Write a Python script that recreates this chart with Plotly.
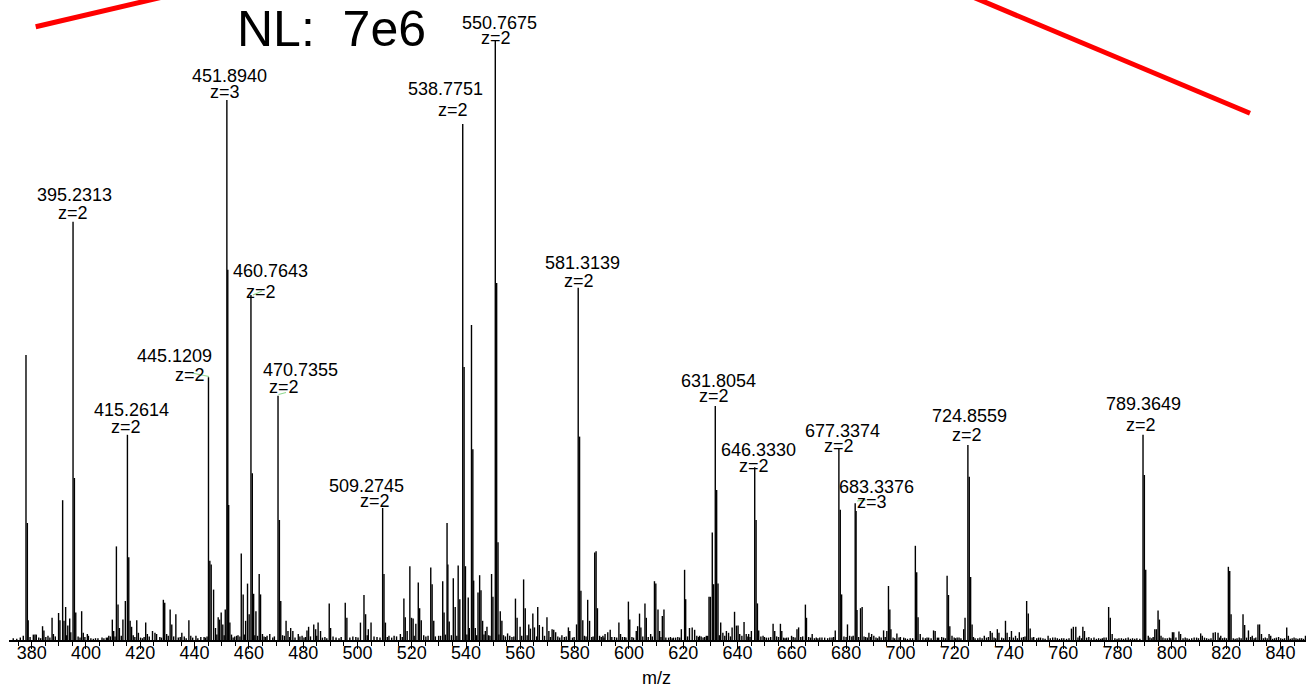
import plotly.graph_objects as go

# ---------------- data ----------------
# relative intensity (%) of each centroid stick, base peak 550.7675 = 100
mz = [
    376.9, 377.9, 378.4, 378.7, 380.6, 381.2, 381.7, 384.0, 384.5, 386.0, 387.5, 388.0,
    389.9, 390.4, 391.4, 391.9, 392.5, 393.3, 394.0, 394.4, 395.2313, 395.73, 396.23,
    398.4, 399.0, 400.5, 400.9, 404.4, 405.9, 407.5, 408.4, 409.0, 409.7, 410.2, 411.2,
    411.8, 412.3, 413.6, 414.5, 415.2614, 415.76, 416.26, 416.8, 418.7, 419.3, 422.0,
    422.6, 424.5, 425.4, 426.0, 428.5, 429.0, 429.7, 431.0, 431.6, 433.1, 435.3, 437.9,
    438.6, 440.5, 443.5, 445.1209, 445.62, 446.12, 447.0, 447.7, 448.7, 449.2, 449.8,
    450.4, 451.3, 451.8940, 452.23, 452.56, 453.0, 454.2, 457.2, 457.9, 458.8, 459.5,
    460.1, 460.7643, 461.26, 461.76, 462.6, 463.8, 464.3, 465.0, 466.7, 467.7, 468.8,
    470.7355, 471.24, 471.74, 473.7, 474.4, 475.4, 476.2, 478.2, 479.6, 481.4, 482.0,
    483.9, 484.6, 485.5, 486.4, 489.6, 490.1, 495.5, 496.1, 501.1, 502.4, 503.0, 504.0,
    505.0, 509.2745, 509.77, 510.3, 511.6, 513.5, 515.8, 517.1, 517.6, 518.3, 519.3,
    519.9, 520.5, 521.5, 522.4, 522.9, 523.5, 527.0, 527.5, 528.1,
    529.9, 531.4, 531.9, 533.0, 533.3, 533.8, 535.3, 536.0, 537.1, 537.7, 538.7751,
    539.28, 539.78, 540.8, 541.2, 542.0, 542.5, 542.8, 543.4, 544.4, 545.0, 545.5, 546.1,
    547.1, 547.7, 549.4, 549.9, 550.7675, 551.27, 551.77, 552.6, 553.2, 555.3, 558.2,
    558.8, 559.9, 561.2, 561.8, 563.1, 563.7, 564.6, 565.2, 566.4, 567.0, 568.2, 569.8,
    570.5, 571.7, 572.3, 573.0, 575.3, 577.7, 578.2, 580.7, 581.3139, 581.81, 582.31,
    583.0, 584.8, 585.5, 587.4, 587.9, 588.4, 590.4, 591.2, 592.2, 593.1, 594.7, 596.3,
    596.9, 598.4, 599.8, 600.3, 601.7, 602.7, 603.2, 603.9, 604.4, 605.9, 606.4, 608.0,
    609.4, 609.9, 610.7, 611.3, 612.3, 612.9, 614.6, 616.4, 619.3, 620.5, 620.9, 622.3,
    623.3, 624.2, 625.0, 626.0, 627.3, 628.5, 629.5, 630.0, 630.7, 631.2, 631.8054,
    632.31, 632.81, 633.8, 634.6, 635.9, 636.7, 638.0, 638.9, 639.6, 640.2, 640.8, 642.4,
    643.2, 644.1, 645.1, 646.3330, 646.83, 647.33, 647.8, 649.4, 650.6, 653.1, 653.7,
    655.8, 656.3, 658.0, 659.9, 661.9, 662.5, 665.0, 665.4, 667.5, 670.3, 672.1, 674.0,
    676.0, 677.3374, 677.84, 678.34, 680.5, 681.3, 683.3376, 683.67, 684.0, 685.3, 685.9,
    688.4, 689.4, 690.2,
    692.2, 693.8, 695.0, 695.6, 696.1, 696.5, 698.7, 700.0, 701.2, 703.6, 705.5, 706.0,
    706.5, 707.3, 710.4, 712.2, 712.8, 714.1, 717.2, 717.7, 718.2, 719.0, 720.9, 723.3,
    723.8, 724.8559, 725.36, 725.86, 726.4, 727.5, 728.5, 730.9, 733.1, 733.8, 735.7,
    736.3, 738.7, 739.3, 740.9, 742.4, 743.8, 746.5, 747.1, 747.8, 749.1, 750.9, 754.4,
    757.0, 760.2, 763.0, 763.7, 764.6, 766.0, 767.2, 767.8, 769.4, 771.3, 775.0, 776.7,
    777.3, 778.0, 780.5, 783.9, 789.3649, 789.86, 790.36, 791.3, 793.7, 794.3, 794.9,
    795.4, 796.0, 798.3, 800.2, 800.7, 802.6, 803.2, 808.2, 810.6, 811.2, 815.2, 816.0,
    817.0, 818.0, 820.8, 821.3, 821.8, 822.6, 826.2, 826.8, 828.2, 829.6, 831.7, 832.3,
    833.0, 835.8, 836.4, 839.3, 842.3, 842.9, 847.1, 849.2,
]
intensity = [
    0.7, 47.5, 19.5, 3.3, 0.9, 0.9, 0.9, 2.3, 1.6, 0.7, 3.7, 1.0,
    4.5, 3.3, 23.3, 3.2, 5.5, 2.4, 3.6, 1.3, 69.7, 27.0, 4.6,
    4.8, 1.2, 1.0, 0.7, 0.3, 0.4, 0.4, 0.7, 0.6, 3.4, 1.5, 15.6,
    5.9, 2.0, 3.4, 6.5, 34.2, 13.8, 3.2, 2.2, 3.3, 1.2, 2.9,
    1.0, 1.5, 1.2, 1.0, 6.7, 6.2, 1.0, 5.1, 2.6, 4.3, 1.2, 3.3,
    0.7, 0.7, 0.5, 43.8, 13.2, 12.6, 8.4, 2.0, 3.8, 3.4, 4.6,
    2.6, 5.1, 90.0, 61.7, 22.5, 2.9, 0.4, 14.4, 7.6, 3.2, 9.4,
    4.3, 57.5, 27.8, 7.7, 4.8, 11.0, 7.6, 1.0, 0.7, 1.0, 0.4,
    40.7, 20.0, 6.5, 3.2, 1.5, 2.0, 1.5, 1.0, 0.7, 1.6, 2.2,
    2.6, 1.8, 2.9, 1.5, 6.1, 2.0, 6.2, 3.7, 2.9, 7.5, 4.3, 1.8,
    2.9, 22.0, 11.0, 2.9, 0.7, 0.7, 1.0, 6.9, 3.8, 1.5, 12.3,
    3.7, 3.6, 2.7, 9.6, 5.3, 3.3, 12.1, 9.3, 3.2,
    0.7, 9.8, 4.6, 19.5, 12.6, 3.1, 10.3, 5.5, 12.4, 6.8, 86.0,
    45.5, 12.3, 7.1, 2.0, 52.5, 31.8, 9.9, 2.0, 7.9, 10.8, 8.3, 3.2,
    1.5, 2.2, 11.0, 7.2, 100.0, 59.5, 16.3, 4.8, 3.2, 1.1, 6.9,
    3.7, 2.2, 10.1, 5.3, 2.6, 1.9, 4.4, 2.1, 5.5, 2.5, 2.2, 3.8,
    1.5, 1.8, 1.7, 1.3, 0.8, 2.1, 1.5, 2.6, 58.7, 33.9, 8.2,
    3.3, 6.7, 3.2, 14.6, 14.8, 5.3, 0.7, 1.0, 1.3, 1.7, 0.5, 2.9,
    1.0, 0.5, 6.4, 3.4, 0.4, 1.5, 2.3, 4.4, 2.1, 6.1, 3.7, 1.0,
    9.8, 9.4, 5.1, 1.5, 4.0, 5.1, 0.4, 0.4, 1.8, 11.7, 6.8, 2.0,
    2.1, 1.7, 0.7, 0.7, 0.4, 0.7, 7.2, 7.2, 17.9, 9.3, 39.0,
    25.0, 9.4, 2.9, 1.2, 1.5, 1.2, 2.1, 4.7, 2.4, 2.4, 1.0, 3.0,
    1.0, 1.0, 1.5, 28.8, 20.0, 6.1, 1.6, 0.7, 0.4, 2.7, 1.5,
    2.7, 1.5, 0.4, 0.7, 1.8, 2.1, 5.9, 3.7, 1.0, 0.4, 0.4, 0.4,
    1.6, 32.0, 21.7, 7.6, 2.6, 0.7, 22.8, 21.5, 5.0, 5.3, 5.5,
    1.2, 1.0, 0.7,
    0.6, 1.6, 1.5, 9.0, 5.1, 1.8, 1.1, 0.5, 0.4, 0.3, 15.7, 11.3,
    3.8, 1.0, 0.4, 1.6, 1.5, 0.4, 10.7, 7.5, 2.3, 0.7, 0.4, 1.8,
    3.7, 32.5, 27.2, 10.5, 2.6, 0.3, 0.3, 0.7, 1.5, 1.2, 1.8,
    1.2, 3.2, 1.2, 1.5, 0.7, 1.3, 6.5, 4.4, 1.9, 0.5, 0.4, 0.7,
    0.4, 0.3, 1.9, 2.2, 2.2, 0.7, 2.2, 1.5, 0.5, 0.4, 0.4, 5.5,
    3.7, 1.0, 0.3, 0.4, 34.2, 27.5, 11.7, 0.7, 1.8, 1.8, 4.9,
    3.4, 0.7, 0.3, 1.3, 1.3, 1.4, 1.0, 0.4, 1.1, 0.7, 1.2, 1.3,
    1.2, 0.7, 12.2, 11.5, 4.3, 0.3, 4.3, 2.5, 1.6, 0.7, 2.6, 2.6,
    1.0, 1.0, 0.7, 0.5, 2.1, 0.7, 0.3, 0.7,
]

# low-level baseline sticks (the "grass" between the peaks)
noise_mz = [
    373.2, 374.5, 375.8, 379.4, 382.6, 383.3, 385.2, 386.7, 388.7, 392.9, 397.1, 397.8,
    399.6, 401.8, 402.7, 403.5, 406.6, 408.0, 410.7, 413.0, 417.4, 418.0, 420.1, 420.8,
    421.4, 423.3, 427.2, 427.8, 430.3, 432.3, 434.0, 434.7, 436.2, 436.9, 439.3, 441.2,
    442.3, 444.0, 444.6, 448.2, 450.9, 453.6, 454.8, 455.5, 456.0, 456.7, 458.3, 462.2,
    463.2, 465.6, 466.2, 469.4, 472.4, 473.1, 475.0, 477.0, 478.8, 480.3, 480.9, 482.7,
    485.0, 487.1, 488.0, 488.7, 491.0, 492.1, 493.2, 494.0, 497.2, 498.3, 499.4, 500.2,
    503.6, 506.1, 507.2, 508.3, 511.0, 512.6, 514.4, 516.5, 520.9, 524.4, 525.2, 526.0,
    528.7, 530.6, 532.4, 534.6, 536.6, 540.3, 543.9, 546.6, 548.3, 548.8, 552.1, 553.8,
    554.5, 556.1, 556.9, 557.6, 560.5, 562.5, 566.0, 568.9, 571.1, 573.8, 574.5, 576.2,
    576.9, 579.2, 579.8, 583.6, 584.2, 586.3, 586.8, 589.2, 589.8, 590.8, 593.7, 595.5,
    597.6, 598.9, 601.1, 605.1, 607.1, 608.6, 611.8, 613.6, 615.3, 615.9, 617.2, 618.0,
    618.7, 621.6, 625.6, 626.6, 627.9, 629.0, 633.3, 635.3, 637.4, 641.6, 643.8, 644.6,
    648.6, 649.9, 651.4, 652.2, 654.4, 655.1, 657.0, 657.5, 658.7, 660.5, 661.2, 663.3,
    664.0, 666.2, 666.9, 668.3, 669.0, 669.6, 671.1, 673.2, 674.8, 675.4, 679.2, 680.0,
    682.1, 682.6, 684.6, 686.6, 687.2, 687.8, 689.0, 691.0, 691.6, 692.9, 694.4, 697.3,
    697.9, 699.5, 701.8, 702.6, 704.5, 708.3, 709.2, 709.8, 711.3, 713.6, 715.2, 715.9,
    716.6, 719.8, 720.3, 721.6, 722.3, 726.9, 729.3, 730.1, 731.7, 732.4, 734.5, 735.1,
    737.3, 738.0, 740.2, 741.6, 743.1, 744.6, 745.3, 745.9, 748.5, 750.2, 751.6, 752.5,
    753.3, 755.2, 756.1, 757.8, 758.6, 759.4, 761.2, 762.1, 765.4, 766.7, 768.6, 770.3,
    772.2, 773.0, 773.8, 774.4, 775.8, 779.0, 779.8, 781.4, 782.2, 783.0, 784.7, 785.5,
    786.3, 787.1, 788.2, 791.9, 792.6, 793.1, 796.7, 797.5, 799.1, 799.6, 801.5, 804.1,
    804.9, 805.6, 806.4, 807.3, 809.1, 809.8, 812.0, 812.8, 813.6, 814.4, 817.6, 818.7,
    819.4, 820.1, 823.3, 824.0, 824.8, 825.5, 827.5, 829.0, 830.3, 830.9, 833.7, 834.4,
    835.1, 837.1, 837.8, 838.5, 840.1, 840.8, 841.5, 843.6, 844.3, 845.0, 845.7, 846.4,
    847.8, 848.5,
]
noise_int = [
    0.3, 0.2, 0.4, 0.5, 0.4, 0.3, 0.5, 0.4, 0.6, 0.8, 0.6, 0.4,
    0.5, 0.3, 0.2, 0.3, 0.3, 0.4, 0.6, 0.7, 0.8, 0.5, 0.4, 0.3,
    0.5, 0.6, 0.5, 0.4, 0.7, 0.6, 0.4, 0.5, 0.6, 0.3, 0.4, 0.3,
    0.5, 0.4, 0.6, 0.9, 0.8, 0.9, 0.6, 0.7, 0.8, 0.6, 0.9, 0.8,
    0.7, 0.6, 0.5, 0.6, 0.8, 0.7, 0.5, 0.4, 0.6, 0.4, 0.5, 0.6,
    0.7, 0.4, 0.5, 0.3, 0.6, 0.4, 0.3, 0.5, 0.4, 0.6, 0.5, 0.4,
    0.8, 0.6, 0.5, 0.4, 0.5, 0.4, 0.6, 0.5, 0.7, 0.8, 0.6, 0.7,
    0.6, 0.7, 0.9, 0.8, 0.7, 0.9, 0.8, 0.9, 0.8, 0.7, 0.9, 0.8,
    0.6, 0.7, 0.5, 0.6, 0.7, 0.8, 0.6, 0.7, 0.5, 0.6, 0.4, 0.5,
    0.6, 0.4, 0.5, 0.7, 0.6, 0.5, 0.6, 0.7, 0.5, 0.4, 0.5, 0.4,
    0.5, 0.4, 0.5, 0.6, 0.5, 0.6, 0.5, 0.4, 0.5, 0.3, 0.4, 0.5,
    0.4, 0.6, 0.5, 0.6, 0.5, 0.7, 0.8, 0.7, 0.6, 0.7, 0.6, 0.5,
    0.6, 0.5, 0.4, 0.5, 0.6, 0.5, 0.4, 0.3, 0.4, 0.5, 0.4, 0.5,
    0.6, 0.5, 0.4, 0.3, 0.4, 0.3, 0.4, 0.3, 0.4, 0.5, 0.6, 0.5,
    0.6, 0.7, 0.5, 0.6, 0.5, 0.4, 0.5, 0.4, 0.3, 0.4, 0.5, 0.4,
    0.3, 0.4, 0.3, 0.2, 0.3, 0.4, 0.3, 0.4, 0.3, 0.4, 0.5, 0.4,
    0.3, 0.4, 0.3, 0.4, 0.3, 0.5, 0.4, 0.3, 0.4, 0.5, 0.4, 0.3,
    0.4, 0.3, 0.5, 0.4, 0.3, 0.4, 0.5, 0.6, 0.4, 0.3, 0.4, 0.3,
    0.2, 0.3, 0.4, 0.3, 0.2, 0.3, 0.2, 0.3, 0.4, 0.3, 0.4, 0.3,
    0.2, 0.3, 0.2, 0.3, 0.4, 0.3, 0.2, 0.3, 0.2, 0.3, 0.2, 0.3,
    0.2, 0.3, 0.2, 0.4, 0.3, 0.5, 0.4, 0.3, 0.4, 0.3, 0.4, 0.3,
    0.4, 0.3, 0.2, 0.3, 0.4, 0.3, 0.4, 0.3, 0.2, 0.3, 0.4, 0.3,
    0.4, 0.3, 0.2, 0.3, 0.4, 0.3, 0.4, 0.5, 0.3, 0.4, 0.3, 0.4,
    0.3, 0.2, 0.3, 0.4, 0.3, 0.2, 0.3, 0.2, 0.3, 0.4, 0.3, 0.2,
    0.3, 0.2,
]

# annotated peaks: m/z and charge state
label_mz = [395.2313, 415.2614, 445.1209, 451.8940, 460.7643, 470.7355, 509.2745, 538.7751,
            550.7675, 581.3139, 631.8054, 646.3330, 677.3374, 683.3376, 724.8559, 789.3649]
label_charge = [2, 2, 2, 3, 2, 2, 2, 2, 2, 2, 2, 2, 2, 3, 2, 2]

tick_values = list(range(380, 841, 20))
x_title = "m/z"
nl_text = "NL:\u00a0\u00a07e6"
x_range = [371.64, 849.4]

# ---------------- label layout (pixel offsets from the peak top) ----------------
# (mz-text dx, mz-text dy, z-text dx, z-text dy); dy negative = above
label_offsets = {
    395.2313: (1, -27, 0, -9),
    415.2614: (4, -25, -1, -8),
    445.1209: (-34, -21, -18, -2),
    451.8940: (3, -24, -1.5, -8),
    460.7643: (20, -24, 10, -3),
    470.7355: (22, -26, 6, -9),
    509.2745: (-16, -22, -8, -7.5),
    538.7751: (-17, -35, -9.5, -14),
    550.7675: (4, -17, 1, -2.5),
    581.3139: (4.5, -25, 0.5, -7),
    631.8054: (3.5, -25, -1, -10),
    646.3330: (4, -17, -0.5, -1.5),
    677.3374: (4, -17, 0, -2),
    683.3376: (21.5, -16, 16.5, -1),
    724.8559: (2, -29, -1, -10),
    789.3649: (0, -30.5, -2.5, -10),
}

# small light-green isotope marks seen next to some charge labels (page pixels)
green_marks = [((192, 373), (209, 376.5)), ((253, 295), (262, 291)),
               ((278.5, 394.5), (286, 392.5)), ((857, 501), (866, 500))]

FONT = "Arial, 'Liberation Sans', Helvetica, sans-serif"

# ---------------- sticks ----------------
xs, ys = [], []
for m, h in zip(noise_mz + mz, noise_int + intensity):
    xs += [m, m, None]
    ys += [0, h, None]

fig = go.Figure()
fig.add_trace(go.Scatter(x=xs, y=ys, mode="lines",
                         line=dict(color="black", width=1.4),
                         hoverinfo="skip", showlegend=False))

# ---------------- peak labels ----------------
annotations = []
for lm, zc in zip(label_mz, label_charge):
    h = intensity[mz.index(lm)]
    mdx, mdy, zdx, zdy = label_offsets[lm]
    annotations.append(dict(x=lm, y=h, xref="x", yref="y", text=f"{lm:.4f}",
                            showarrow=False, xanchor="center", yanchor="middle",
                            xshift=mdx, yshift=-mdy,
                            font=dict(family=FONT, size=18, color="black")))
    annotations.append(dict(x=lm, y=h, xref="x", yref="y", text=f"z={zc}",
                            showarrow=False, xanchor="center", yanchor="middle",
                            xshift=zdx, yshift=-zdy,
                            font=dict(family=FONT, size=18, color="black")))

# page geometry
W, H = 1312, 692
ML, MR, MT, MB = 9, 6, 0, 52
PW, PH = W - ML - MR, H - MT - MB


def paper(px, py):
    return (px - ML) / PW, (H - MB - py) / PH


nx, ny = paper(331, 29)
annotations.append(dict(x=nx, y=ny, xref="paper", yref="paper", text=nl_text,
                        showarrow=False, xanchor="center", yanchor="middle",
                        font=dict(family=FONT, size=50, color="black")))
tx, ty = paper(656, 678)
annotations.append(dict(x=tx, y=ty, xref="paper", yref="paper", text=x_title,
                        showarrow=False, xanchor="center", yanchor="middle",
                        font=dict(family=FONT, size=18, color="black")))

# red decorative strokes
shapes = []
for (p0, p1) in [((35.7, 26.8), (192.6, -10)), ((956.2, -10), (1250, 113.3))]:
    x0, y0 = paper(*p0)
    x1, y1 = paper(*p1)
    shapes.append(dict(type="line", xref="paper", yref="paper", x0=x0, y0=y0, x1=x1, y1=y1,
                       line=dict(color="#ff0000", width=5)))
for (p0, p1) in green_marks:
    x0, y0 = paper(*p0)
    x1, y1 = paper(*p1)
    shapes.append(dict(type="line", xref="paper", yref="paper", x0=x0, y0=y0, x1=x1, y1=y1,
                       line=dict(color="#8fd88f", width=1.2)))

fig.update_layout(
    width=W, height=H,
    margin=dict(l=ML, r=MR, t=MT, b=MB, pad=0),
    paper_bgcolor="white", plot_bgcolor="white",
    showlegend=False,
    annotations=annotations,
    shapes=shapes,
    xaxis=dict(range=x_range, tickmode="linear", tick0=tick_values[0],
               dtick=tick_values[1] - tick_values[0],
               ticks="outside", ticklen=7, tickwidth=1, tickcolor="black",
               showline=True, linecolor="black", linewidth=1.5,
               showgrid=False, zeroline=False, ticklabelstandoff=-11,
               tickfont=dict(family=FONT, size=18, color="black"),
               minor=dict(dtick=5, tick0=380, ticks="outside", ticklen=4,
                          tickwidth=1, tickcolor="black", showgrid=False)),
    yaxis=dict(visible=False, range=[0, PH / 6.0], fixedrange=True),
)

fig.write_html("out.html", config={"displayModeBar": False},
               post_script="document.body.style.margin='0';document.body.style.overflow='hidden';")
